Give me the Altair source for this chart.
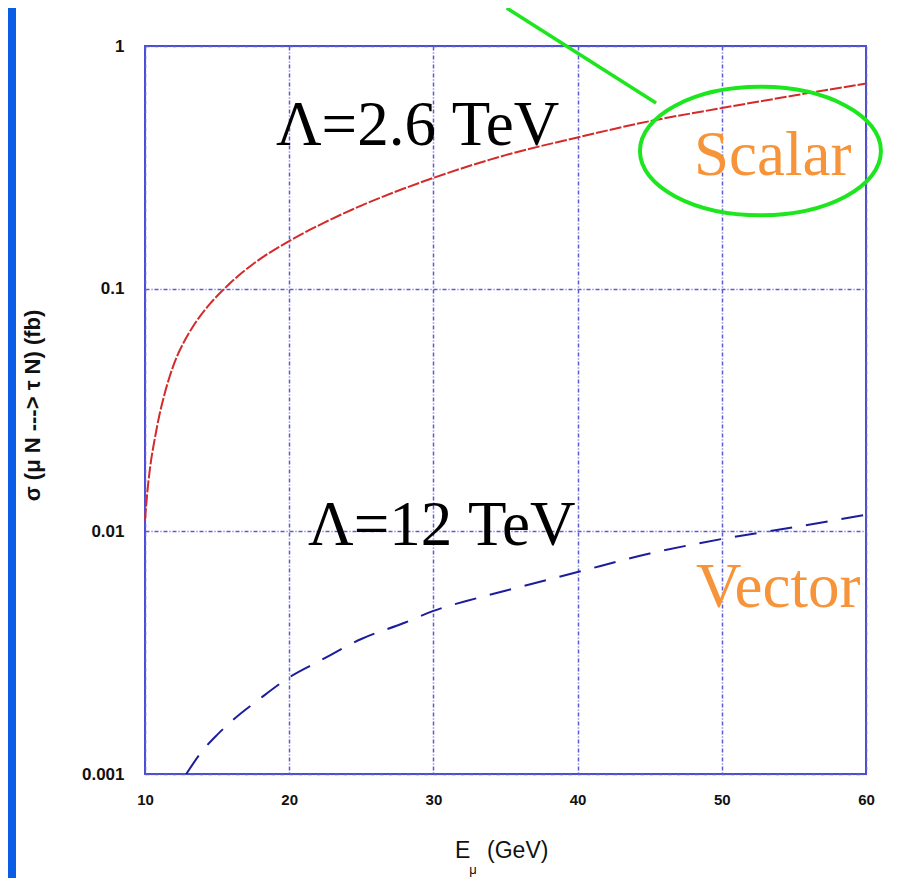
import altair as alt
import pandas as pd

# ---- data ----
energy_scalar = [10.0, 10.15, 10.35, 10.7, 11.0, 11.3, 11.7, 12.2, 12.7, 13.35, 14.5, 15.7, 17.5,
                 20.0, 22.5, 25.0, 30.0, 35.0, 40.0, 45.0, 50.0, 55.0, 60.0]
sigma_scalar = [0.0111, 0.01425, 0.01824, 0.02447, 0.03016, 0.03578, 0.04325, 0.0523, 0.0603,
                0.0702, 0.0865, 0.1026, 0.1264, 0.1572, 0.188, 0.22, 0.286, 0.355, 0.42, 0.49,
                0.555, 0.625, 0.70]

energy_vector = [12.86, 14.0, 15.0, 16.0, 18.0, 20.0, 22.0, 25.0, 28.0, 30.0, 33.0,
                 36.0, 40.0, 45.0, 50.0, 55.0, 60.0]
sigma_vector = [0.001, 0.00125, 0.00145, 0.00165, 0.00205, 0.0025, 0.0029, 0.0036, 0.0042,
                0.0047, 0.0053, 0.0059, 0.0068, 0.0081, 0.0093, 0.0104, 0.0117]

x_ticks = [10, 20, 30, 40, 50, 60]
y_ticks = [0.001, 0.01, 0.1, 1]

lambda_labels = ["Λ=2.6 TeV", "Λ=12 TeV"]
lambda_x = [19.08, 21.30]
lambda_y = [0.391, 0.00879]

type_labels = ["Scalar", "Vector"]
type_x = [48.07, 48.21]
type_y = [0.294, 0.00488]

ellipse_x = [52.68]
ellipse_y = [0.369]
pointer_x = [35.08, 45.44]
pointer_y = [1.434, 0.582]

xtitle_parts = ["E", "(GeV)"]
xtitle_x = [31.50, 33.72]
xtitle_y = [0.000451, 0.000451]
sub_label = ["μ"]
sub_x = [32.75]
sub_y = [0.000402]

# ---- styles ----
FRAME = "#4b4bd6"
GRID = "#5c5cd4"
SANS = "Liberation Sans"
SERIF = "Liberation Serif"
ORANGE = "#f7943a"
GREEN = "#1ee61e"

xs = alt.Scale(domain=[10, 60], nice=False, zero=False)
ys = alt.Scale(type="log", domain=[0.001, 1], nice=False)

scalar_df = pd.DataFrame({"E": energy_scalar, "sigma": sigma_scalar})
vector_df = pd.DataFrame({"E": energy_vector, "sigma": sigma_vector})
lambda_df = pd.DataFrame({"E": lambda_x, "sigma": lambda_y, "t": lambda_labels})
type_df = pd.DataFrame({"E": type_x, "sigma": type_y, "t": type_labels})
ell_df = pd.DataFrame({"E": ellipse_x, "sigma": ellipse_y})
ptr_df = pd.DataFrame({"E": pointer_x, "sigma": pointer_y})
xt_df = pd.DataFrame({"E": xtitle_x, "sigma": xtitle_y, "t": xtitle_parts})
sub_df = pd.DataFrame({"E": sub_x, "sigma": sub_y, "t": sub_label})

x_axis = alt.Axis(values=x_ticks, format="d", grid=True, gridColor=GRID, gridDash=[4, 2, 1, 2],
                  gridWidth=1.5, gridOpacity=1, ticks=False, domain=False, labelFlush=False,
                  labelFont=SANS, labelFontSize=15, labelFontWeight="bold", labelColor="#111",
                  labelPadding=18, title=None)
y_axis = alt.Axis(values=y_ticks, format="~g", grid=True, gridColor=GRID, gridDash=[4, 2, 1, 2],
                  gridWidth=1.5, gridOpacity=1, ticks=False, domain=False, labelFlush=False,
                  labelFont=SANS, labelFontSize=17, labelFontWeight="bold", labelColor="#111",
                  labelPadding=21,
                  title="σ (μ N ---> τ N) (fb)", titleFont=SANS, titleFontSize=22,
                  titleFontWeight="bold", titleColor="#111", titleAngle=270,
                  titleAlign="center", titleBaseline="bottom", titleX=-101, titleY=359)


def X():
    return alt.X("E:Q", scale=xs, axis=x_axis)


def Y():
    return alt.Y("sigma:Q", scale=ys, axis=y_axis)


scalar = alt.Chart(scalar_df).mark_line(
    color="#d42a2a", strokeWidth=2, strokeDash=[12, 2], interpolate="monotone"
).encode(x=X(), y=Y())

vector = alt.Chart(vector_df).mark_line(
    color="#1c1c9c", strokeWidth=2, strokeDash=[22, 14], interpolate="monotone"
).encode(x=X(), y=Y())

lambdas = alt.Chart(lambda_df).mark_text(
    font=SERIF, fontSize=63, color="black", align="left", baseline="alphabetic"
).encode(x=X(), y=Y(), text="t:N")

types = alt.Chart(type_df).mark_text(
    font=SERIF, fontSize=63, color=ORANGE, align="left", baseline="alphabetic"
).encode(x=X(), y=Y(), text="t:N")

ellipse_path = ("M -1 0 C -1 -0.2944 -0.5523 -0.533 0 -0.533 C 0.5523 -0.533 1 -0.2944 1 0 "
                "C 1 0.2944 0.5523 0.533 0 0.533 C -0.5523 0.533 -1 0.2944 -1 0 Z")
ellipse = alt.Chart(ell_df).mark_point(
    shape=ellipse_path, size=58081, filled=False, stroke=GREEN, strokeWidth=4, opacity=1
).encode(x=X(), y=Y())

pointer = alt.Chart(ptr_df).mark_line(color=GREEN, strokeWidth=3.5, clip=False).encode(
    x=X(), y=Y()
)

xtitle = alt.Chart(xt_df).mark_text(
    font=SANS, fontSize=23, color="#111", align="left", baseline="alphabetic"
).encode(x=X(), y=Y(), text="t:N")

xsub = alt.Chart(sub_df).mark_text(
    font=SANS, fontSize=13, color="#111", align="center", baseline="middle"
).encode(x=X(), y=Y(), text="t:N")

strip = alt.Chart(pd.DataFrame({"a": [0]})).mark_rect(color="#0a5ee6").encode(
    x=alt.value(-137), x2=alt.value(-129), y=alt.value(-38), y2=alt.value(832)
)

chart = alt.layer(
    scalar, vector, lambdas, types, ellipse, pointer, xtitle, xsub, strip
).properties(
    width=721, height=728,
    autosize=alt.AutoSizeParams(type="none"),
    padding={"left": 137, "top": 38, "right": 30, "bottom": 104},
    background="white",
).configure_view(
    stroke=FRAME, strokeWidth=2
)

chart.save("out.html", embed_options={"renderer": "svg", "actions": False})
